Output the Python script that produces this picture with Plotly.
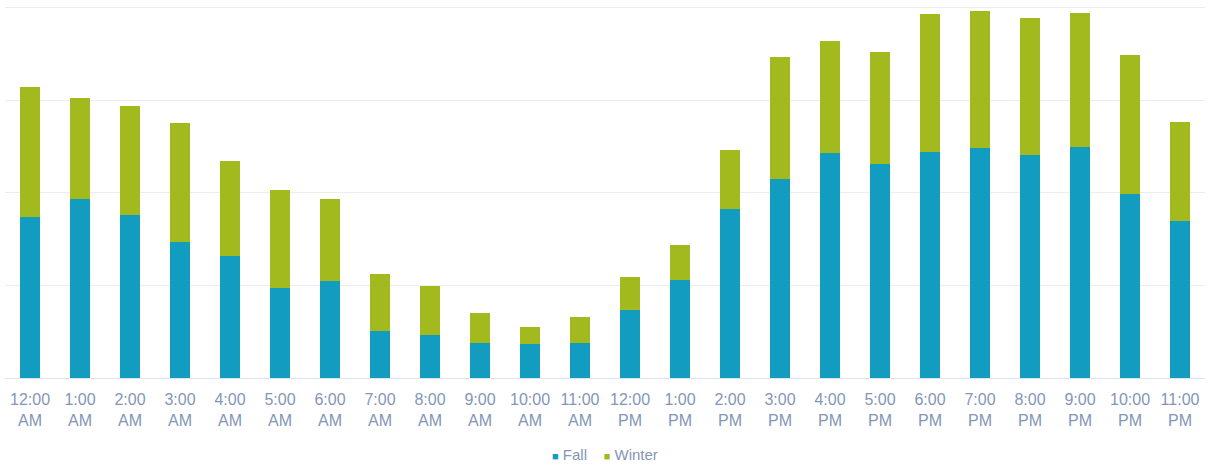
import plotly.graph_objects as go

hours = [
    "12:00<br>AM", "1:00<br>AM", "2:00<br>AM", "3:00<br>AM", "4:00<br>AM", "5:00<br>AM",
    "6:00<br>AM", "7:00<br>AM", "8:00<br>AM", "9:00<br>AM", "10:00<br>AM", "11:00<br>AM",
    "12:00<br>PM", "1:00<br>PM", "2:00<br>PM", "3:00<br>PM", "4:00<br>PM", "5:00<br>PM",
    "6:00<br>PM", "7:00<br>PM", "8:00<br>PM", "9:00<br>PM", "10:00<br>PM", "11:00<br>PM",
]

fall = [86.8, 96.9, 88.3, 73.5, 66.1, 48.7, 52.5, 25.6, 23.3, 19.0, 18.1, 19.0,
        37.0, 53.2, 91.5, 107.7, 121.6, 115.4, 122.3, 124.1, 120.7, 125.0, 99.5, 84.7]

winter = [70.4, 54.4, 58.5, 64.3, 51.3, 53.1, 44.4, 30.7, 26.3, 16.2, 9.5, 13.7,
          17.6, 18.5, 31.5, 65.5, 60.5, 60.7, 74.1, 74.0, 74.0, 72.4, 74.8, 53.6]

series_names = ["Fall", "Winter"]

FALL_COLOR = "#129cbf"
WINTER_COLOR = "#a3ba1f"
TEXT_COLOR = "#8396b7"

fig = go.Figure()
fig.add_trace(go.Bar(name=series_names[0], x=hours, y=fall,
                     marker=dict(color=FALL_COLOR, line_width=0)))
fig.add_trace(go.Bar(name=series_names[1], x=hours, y=winter,
                     marker=dict(color=WINTER_COLOR, line_width=0)))

# compact legend row under the axis: small colored squares followed by the series names
legend_text = (
    f"<span style='color:{FALL_COLOR};font-size:11px'>■</span> {series_names[0]}"
    f"&nbsp;&nbsp;&nbsp;&nbsp;<span style='color:{WINTER_COLOR};font-size:11px'>■</span> {series_names[1]}"
)
fig.add_annotation(
    text=legend_text,
    xref="paper", yref="paper",
    x=0.5, xanchor="center",
    y=-0.205, yanchor="middle",
    showarrow=False,
    font=dict(size=15, color=TEXT_COLOR),
)

fig.update_layout(
    barmode="stack",
    bargap=0.6,
    width=1209,
    height=466,
    margin=dict(l=5, r=4, t=4, b=88),
    paper_bgcolor="white",
    plot_bgcolor="white",
    showlegend=False,
    font=dict(family="Liberation Sans, Arial, sans-serif", size=16, color=TEXT_COLOR),
)
fig.update_xaxes(
    showgrid=False,
    showline=True,
    linecolor="#dde2ec",
    linewidth=1,
    ticks="",
    ticklabelstandoff=7,
    automargin=False,
    tickfont=dict(size=16, color=TEXT_COLOR),
)
fig.update_yaxes(
    range=[0, 202],
    dtick=50,
    showgrid=True,
    gridcolor="#ebebf0",
    gridwidth=1,
    zeroline=False,
    showticklabels=False,
    automargin=False,
)

fig.write_html("out.html")
